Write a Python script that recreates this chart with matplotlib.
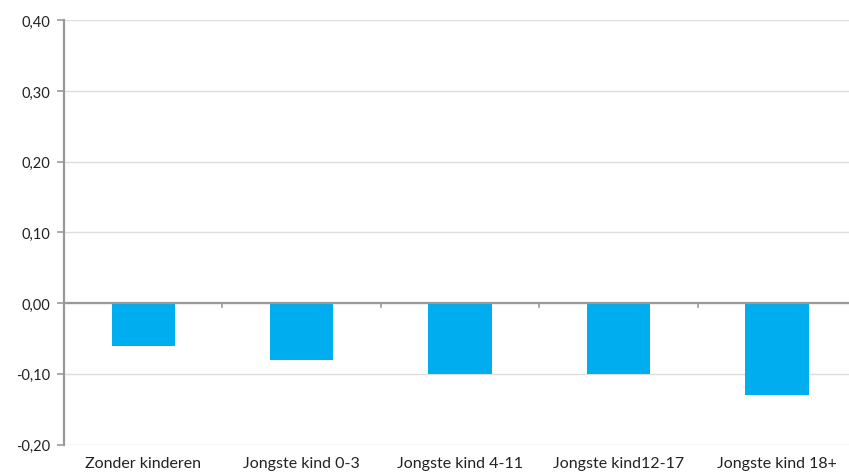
import matplotlib.pyplot as plt
from matplotlib.ticker import FuncFormatter

categorieen = ["Zonder kinderen", "Jongste kind 0-3", "Jongste kind 4-11",
               "Jongste kind12-17", "Jongste kind 18+"]
waarden = [-0.06, -0.08, -0.10, -0.10, -0.13]
y_ticks = [-0.20, -0.10, 0.00, 0.10, 0.20, 0.30, 0.40]

plt.rcParams['font.family'] = ['Lato', 'DejaVu Sans']

fig = plt.figure(figsize=(8.49, 4.77), dpi=100)
ax = fig.add_axes([0.0754, 0.066, 0.933, 0.889])

x = range(len(categorieen))
ax.bar(x, waarden, width=0.40, color="#00AEEF", zorder=3)

ax.set_xlim(-0.5, len(categorieen) - 0.5)
ax.set_ylim(-0.20, 0.40)
ax.set_yticks(y_ticks)
ax.yaxis.set_major_formatter(FuncFormatter(lambda v, p: f"{v:.2f}".replace(".", ",")))
ax.set_xticks(list(x))
ax.set_xticklabels(categorieen)

# grid
ax.grid(axis='y', color="#dddddd", linewidth=1, zorder=0)

# nullijn met streepjes tussen de categorieen
ax.axhline(0, color="#999999", linewidth=1.6, zorder=4)
for i in range(len(categorieen) - 1):
    ax.plot([i + 0.5, i + 0.5], [0, -0.006], color="#999999", linewidth=1.2, zorder=4)

for s in ['top', 'right', 'bottom']:
    ax.spines[s].set_visible(False)
ax.spines['left'].set_color("#999999")
ax.spines['left'].set_linewidth(1.6)

ax.tick_params(axis='y', length=5, width=1.2, color="#999999", labelsize=10.5,
               labelcolor="#222222", pad=5)
ax.tick_params(axis='x', length=0, labelsize=11.5, labelcolor="#222222", pad=8)

fig.savefig("out.png", dpi=100)
